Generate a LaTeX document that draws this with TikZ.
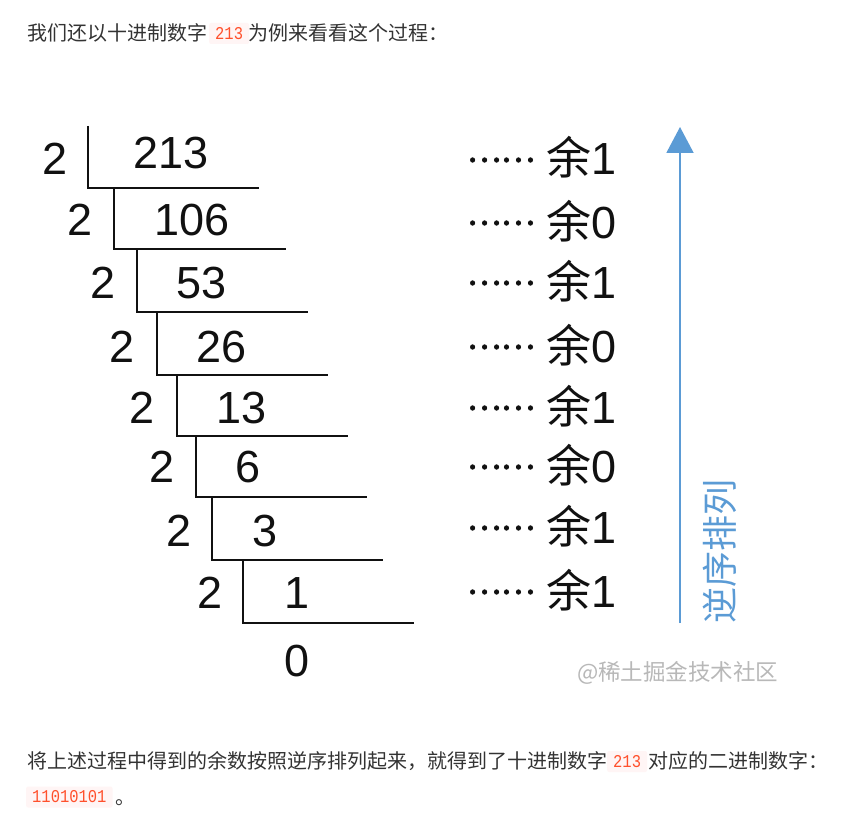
\documentclass[tikz,border=0pt]{standalone}
\usepackage{fontspec}
\setmainfont{Liberation Sans}
\newfontfamily\cjk{Noto Sans CJK SC}
\newfontfamily\dotfont[FakeBold=2.5]{Noto Sans CJK SC}
\newfontfamily\codefont[FakeStretch=0.86]{Liberation Mono}
\usetikzlibrary{arrows.meta}
\definecolor{txt}{HTML}{333333}
\definecolor{codered}{HTML}{FF502C}
\definecolor{codebg}{HTML}{FFF5F5}
\definecolor{arrowblue}{HTML}{5B9BD5}
\definecolor{wm}{HTML}{B8B8B8}
\definecolor{ink}{HTML}{111111}
\begin{document}
\begin{tikzpicture}[x=1pt,y=-1pt,
  num/.style={font=\fontsize{45}{45}\selectfont, text=ink, inner sep=0pt, anchor=base},
  rem/.style={font=\fontsize{45}{45}\selectfont, text=ink, inner sep=0pt, anchor=base west},
  dotsty/.style={font=\dotfont\fontsize{32}{32}\selectfont, text=ink, inner sep=0pt, anchor=center},
  bracket/.style={line width=2.2pt, draw=ink},
  para/.style={font=\cjk\fontsize{20}{20}\selectfont, text=txt, inner sep=0pt, anchor=base west},
  code/.style={font=\codefont\fontsize{18}{18}\selectfont, text=codered, fill=codebg, rounded corners=2pt, inner xsep=6pt, inner ysep=0pt, minimum height=21pt, anchor=west},
  vtext/.style={font=\cjk\fontsize{36}{36}\selectfont, text=arrowblue, rotate=90, inner sep=0pt},
  wmark/.style={font=\cjk\fontsize{22.5}{22.5}\selectfont, text=wm, anchor=west, inner sep=0pt},
]
\fill[white] (0,0) rectangle (843,813);
\useasboundingbox (0,0) rectangle (843,813);

% paragraph text
\node[para] (t1) at (27,40.6) {我们还以十进制数字};
\node[code] (c1) at (209,33.5) {213};
\node[para] (t2) at (248,40.6) {为例来看看这个过程：};

\node[para] (b1) at (27,768.6) {将上述过程中得到的余数按照逆序排列起来，就得到了十进制数字};
\node[code] (c2) at (607,761.5) {213};
\node[para] (b2) at (648,768.6) {对应的二进制数字：};
\node[code] (c3) at (26,797) {11010101};
\node[para] (b3) at (115,804.6) {。};

% division ladder
\foreach \i/\dx/\db/\nv/\nx/\nb/\vx/\vt/\hy/\hr/\rv/\rb in {
  1/55/175/213/171/169/88/126/188/259/1/175,
  2/80/235/106/192/235/114/188/249/286/0/238,
  3/103/298/53/202/298/137/249/312/308/1/298,
  4/122/362/26/222/362/157/312/375/328/0/362,
  5/142/423/13/242/423/177/375/436/348/1/423,
  6/162/482/6/248/482/196/436/497/367/0/482,
  7/179/546/3/265/546/212/497/560/383/1/543,
  8/210/608/1/297/608/243/560/623/414/1/607}{
  \node[num] (d\i) at (\dx,\db) {2};
  \node[num] (n\i) at (\nx,\nb) {\nv};
  \coordinate (vt\i) at (\vx,\vt);
  \coordinate (vc\i) at (\vx,\hy);
  \coordinate (hr\i) at (\hr,\hy);
  \draw[bracket] (vt\i) -- (vc\i) -- (hr\i);
  \node[dotsty] (dots\i) at (501,\rb-15) {……};
  \node[rem] (r\i) at (546,\rb) {{\cjk 余}\rv};
}
\node[num] (n9) at (297,676) {0};

% reverse-order arrow
\coordinate (abot) at (680,623);
\coordinate (atop) at (680,127);
\draw[arrowblue, line width=2pt, -{Triangle[length=26pt,width=27pt]}] (abot) -- (atop);
\node[vtext] (vt) at (720,551) {逆序排列};

% watermark
\node[wmark] (wmk) at (577,673) {@稀土掘金技术社区};
\end{tikzpicture}
\end{document}
